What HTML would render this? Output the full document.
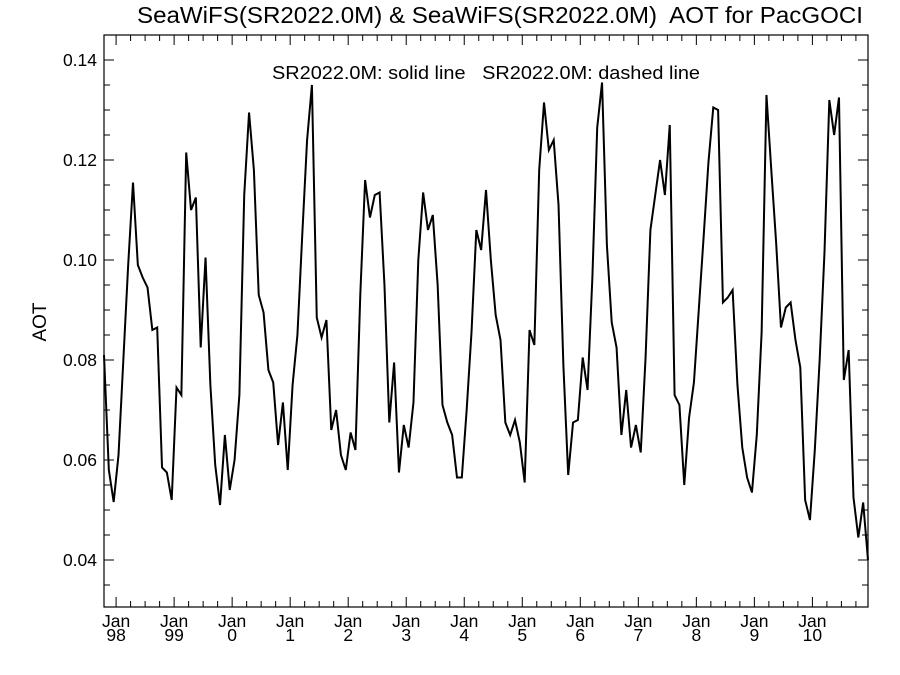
<!DOCTYPE html>
<html><head><meta charset="utf-8"><style>
html,body{margin:0;padding:0;background:#fff;}
svg{display:block;font-family:"Liberation Sans",Arial,sans-serif;}
</style></head><body>
<svg id="chart" width="900" height="675" viewBox="0 0 900 675" xmlns="http://www.w3.org/2000/svg">
<text x="137" y="23" font-size="23" textLength="726" lengthAdjust="spacingAndGlyphs" xml:space="preserve">SeaWiFS(SR2022.0M) &amp; SeaWiFS(SR2022.0M)  AOT for PacGOCI</text>
<text x="272" y="79" font-size="18" textLength="428" lengthAdjust="spacingAndGlyphs" xml:space="preserve">SR2022.0M: solid line   SR2022.0M: dashed line</text>
<text x="0" y="0" font-size="19" text-anchor="middle" transform="translate(46,322) rotate(-90)">AOT</text>
<g id="axes"></g>
<g id="series"></g>
</svg>
<script>
const startYear = 1997, startMonth = 10;
const yTicks = [0.04, 0.06, 0.08, 0.10, 0.12, 0.14];
const yTickLabels = ["0.04", "0.06", "0.08", "0.10", "0.12", "0.14"];
const xYears = [1998,1999,2000,2001,2002,2003,2004,2005,2006,2007,2008,2009,2010];
const xYearLabels = ["98","99","0","1","2","3","4","5","6","7","8","9","10"];
const aot = [0.081,0.058,0.0516,0.061,0.080,0.099,0.1155,0.099,0.0965,0.0945,0.086,0.0865,0.0585,0.0575,0.052,0.0745,0.073,0.1215,0.110,0.1125,0.0825,0.1005,0.075,0.059,0.051,0.065,0.054,0.060,0.073,0.113,0.1295,0.118,0.093,0.0895,0.078,0.0755,0.063,0.0715,0.058,0.075,0.085,0.105,0.124,0.135,0.0885,0.0845,0.088,0.066,0.070,0.061,0.058,0.0655,0.062,0.093,0.116,0.1085,0.113,0.1135,0.095,0.0675,0.0795,0.0575,0.067,0.0625,0.0715,0.100,0.1135,0.106,0.109,0.095,0.071,0.0675,0.065,0.0565,0.0565,0.070,0.0855,0.106,0.102,0.114,0.100,0.089,0.084,0.0675,0.065,0.068,0.0635,0.0555,0.086,0.083,0.118,0.1315,0.122,0.124,0.111,0.079,0.057,0.0675,0.068,0.0805,0.074,0.0965,0.1265,0.1355,0.103,0.0875,0.0825,0.065,0.074,0.0625,0.067,0.0615,0.0805,0.106,0.113,0.120,0.113,0.127,0.073,0.071,0.055,0.0685,0.0755,0.090,0.1045,0.1195,0.1305,0.130,0.0915,0.0925,0.094,0.075,0.0625,0.0565,0.0535,0.065,0.0855,0.133,0.118,0.1035,0.0865,0.0905,0.0915,0.084,0.0785,0.052,0.048,0.062,0.080,0.1015,0.132,0.125,0.1325,0.076,0.082,0.0525,0.0445,0.0515,0.040];

const L=104, R=868, T=35, B=607;
const N = aot.length;
function xMonth(m){ return L + m*(R-L)/(N-1); }
function xDate(year, monthFrac){ return xMonth((year-startYear)*12 + monthFrac - (startMonth-1) - 0.5); }
function yv(v){ return 60 + (0.14 - v)*5000; }
const NS="http://www.w3.org/2000/svg";
const axes=document.getElementById('axes');
function mk(tag, attrs, parent){ const e=document.createElementNS(NS,tag); for(const k in attrs) e.setAttribute(k,attrs[k]); parent.appendChild(e); return e; }

const frame=mk('rect',{x:L,y:T,width:R-L,height:B-T,fill:'none',stroke:'#000','stroke-width':1.2},axes);



for(let k=0;k<=23;k++){
  const v=0.03+k*0.005; const y=yv(v);
  if(y<T-0.5||y>B+0.5) continue;
  const major = (k%4===2);
  const len = major?10:6;
  const t1=mk('line',{x1:L,x2:L+len,y1:y,y2:y,stroke:'#000','stroke-width':1},axes);
  
  
  const t2=mk('line',{x1:R,x2:R-len,y1:y,y2:y,stroke:'#000','stroke-width':1},axes);
  
  
}
yTicks.forEach((v,i)=>{
  const t=mk('text',{x:L-7,y:yv(v)+6,'font-size':17.5,'text-anchor':'end'},axes);
  t.textContent=yTickLabels[i];
  
  
});
for(let y=1997;y<=2011;y++){
  for(let q=0;q<4;q++){
    const x=xDate(y,q*3);
    if(x<L-0.5||x>R+0.5) continue;
    const len = q===0?10:6;
    const a=mk('line',{x1:x,x2:x,y1:B,y2:B-len,stroke:'#000','stroke-width':1},axes);
    
    
    const b=mk('line',{x1:x,x2:x,y1:T,y2:T+len,stroke:'#000','stroke-width':1},axes);
    
    
  }
}
xYears.forEach((yr,i)=>{
  const x=xDate(yr,0);
  const t=mk('text',{x:x,y:627,'font-size':17.5,'text-anchor':'middle'},axes);
  t.textContent='Jan';
  
  
  const t2=mk('text',{x:x,y:641,'font-size':17.5,'text-anchor':'middle'},axes);
  t2.textContent=xYearLabels[i];
  
  
});
const pts=aot.map((v,i)=>xMonth(i).toFixed(2)+','+yv(v).toFixed(2)).join(' ');
const line=mk('polyline',{points:pts,fill:'none',stroke:'#000','stroke-width':2,'stroke-linejoin':'miter'},document.getElementById('series'));


</script>
</body></html>
